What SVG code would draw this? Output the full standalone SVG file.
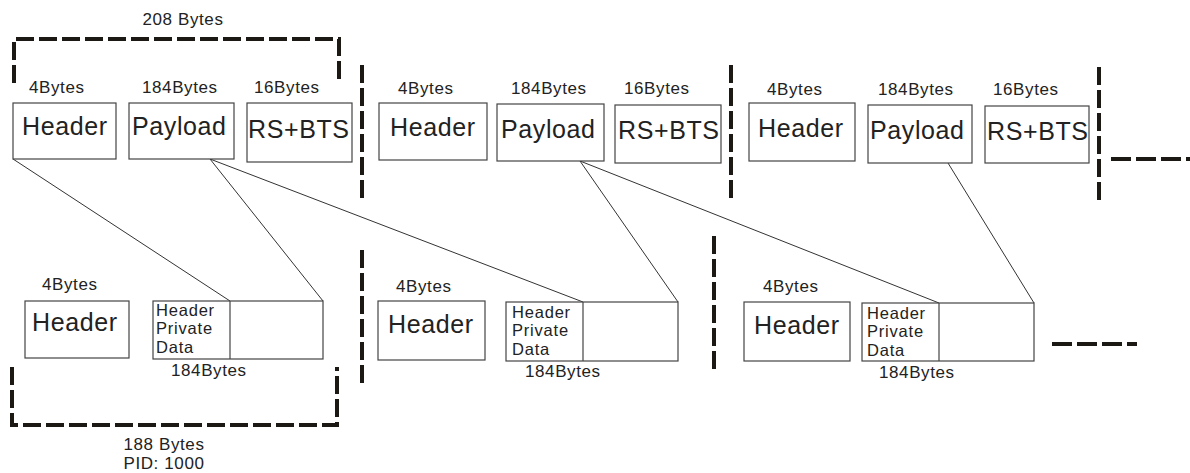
<svg xmlns="http://www.w3.org/2000/svg" width="1190" height="473" viewBox="0 0 1190 473">
<style>
text{font-family:"Liberation Sans",Arial,sans-serif;fill:#222}
.big{font-size:25px;letter-spacing:0.6px}
.sm{font-size:17px;letter-spacing:0.6px}
.pd{font-size:16.5px;letter-spacing:0.8px}
.box{fill:#fff;stroke:#444;stroke-width:1.2}
.div{stroke:#444;stroke-width:1.2}
.dash{fill:none;stroke:#1c1915;stroke-width:4;stroke-dasharray:18 5}
.hd{fill:none;stroke:#1c1915;stroke-width:4;stroke-dasharray:20 5}
.ln{stroke:#333;stroke-width:1;fill:none}
</style>
<rect width="1190" height="473" fill="#fff"/>
<g id="separators">
<path class="dash" d="M14,83 V39 H339 V83"/>
<path class="dash" d="M12,367 V425 H337 V367"/>
<path class="dash" d="M362,65 V200"/>
<path class="dash" d="M362,250 V384"/>
<path class="dash" d="M731,65 V200"/>
<path class="dash" d="M714,236 V369"/>
<path class="dash" d="M1099,67 V202"/>
<path class="hd" d="M1111,159 H1190"/>
<path class="hd" d="M1052,344 H1137"/>
</g>
<g id="labels">
<text class="sm" x="183" y="25" text-anchor="middle">208 Bytes</text>
<text class="sm" x="164" y="450" text-anchor="middle">188 Bytes</text>
<text class="sm" x="164" y="469" text-anchor="middle">PID: 1000</text>
</g>
<g id="connectors">
<line class="ln" x1="13" y1="159" x2="230" y2="301"/>
<line class="ln" x1="210" y1="159" x2="323" y2="301"/>
<line class="ln" x1="210" y1="159" x2="583" y2="302"/>
<line class="ln" x1="580" y1="161" x2="678" y2="302"/>
<line class="ln" x1="580" y1="161" x2="939" y2="303"/>
<line class="ln" x1="948" y1="163" x2="1034" y2="303"/>
</g>
<g id="top-header-1"><text class="sm" x="29" y="93">4Bytes</text><rect class="box" x="13" y="103" width="103" height="56"/><text class="big" x="22" y="135">Header</text></g>
<g id="top-payload-1"><text class="sm" x="142" y="93">184Bytes</text><rect class="box" x="129" y="103" width="105" height="56"/><text class="big" x="132" y="135">Payload</text></g>
<g id="top-rs-1"><text class="sm" x="254" y="93">16Bytes</text><rect class="box" x="247" y="103" width="105" height="59"/><text class="big" x="248" y="138">RS+BTS</text></g>
<g id="top-header-2"><text class="sm" x="398" y="94">4Bytes</text><rect class="box" x="379" y="103" width="108" height="57"/><text class="big" x="390" y="136">Header</text></g>
<g id="top-payload-2"><text class="sm" x="511" y="94">184Bytes</text><rect class="box" x="497" y="104" width="107" height="57"/><text class="big" x="501" y="138">Payload</text></g>
<g id="top-rs-2"><text class="sm" x="624" y="94">16Bytes</text><rect class="box" x="615" y="105" width="106" height="58"/><text class="big" x="618" y="139">RS+BTS</text></g>
<g id="top-header-3"><text class="sm" x="767" y="95">4Bytes</text><rect class="box" x="749" y="103" width="106" height="58"/><text class="big" x="758" y="137">Header</text></g>
<g id="top-payload-3"><text class="sm" x="878" y="95">184Bytes</text><rect class="box" x="868" y="105" width="104" height="58"/><text class="big" x="870" y="139">Payload</text></g>
<g id="top-rs-3"><text class="sm" x="993" y="95">16Bytes</text><rect class="box" x="985" y="106" width="104" height="57"/><text class="big" x="987" y="140">RS+BTS</text></g>
<g id="bot-header-1"><text class="sm" x="42" y="290">4Bytes</text><rect class="box" x="25" y="301" width="104" height="57"/><text class="big" x="32" y="331">Header</text></g>
<g id="bot-private-1"><rect class="box" x="153" y="301" width="170" height="58"/><line class="div" x1="230" y1="301" x2="230" y2="359"/><text class="pd" x="156" y="316">Header</text><text class="pd" x="156" y="334">Private</text><text class="pd" x="156" y="353">Data</text><text class="sm" x="171" y="376">184Bytes</text></g>
<g id="bot-header-2"><text class="sm" x="396" y="292">4Bytes</text><rect class="box" x="378" y="301" width="107" height="59"/><text class="big" x="388" y="333">Header</text></g>
<g id="bot-private-2"><rect class="box" x="506" y="302" width="172" height="59"/><line class="div" x1="583" y1="302" x2="583" y2="361"/><text class="pd" x="512" y="318">Header</text><text class="pd" x="512" y="336">Private</text><text class="pd" x="512" y="355">Data</text><text class="sm" x="525" y="377">184Bytes</text></g>
<g id="bot-header-3"><text class="sm" x="763" y="292">4Bytes</text><rect class="box" x="744" y="302" width="106" height="59"/><text class="big" x="754" y="334">Header</text></g>
<g id="bot-private-3"><rect class="box" x="862" y="303" width="172" height="58"/><line class="div" x1="939" y1="303" x2="939" y2="361"/><text class="pd" x="867" y="319">Header</text><text class="pd" x="867" y="337">Private</text><text class="pd" x="867" y="356">Data</text><text class="sm" x="879" y="378">184Bytes</text></g>
</svg>
